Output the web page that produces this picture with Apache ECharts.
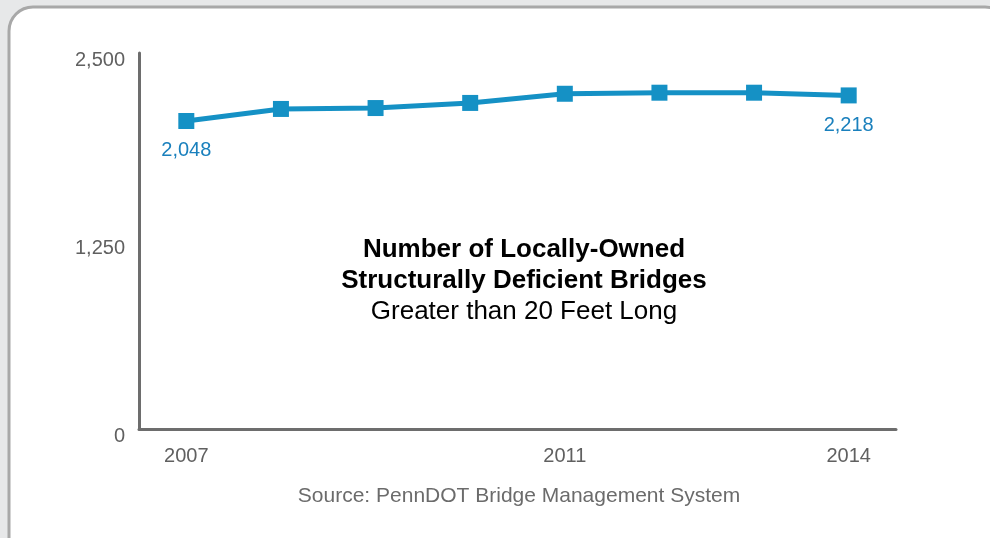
<!DOCTYPE html>
<html>
<head>
<meta charset="utf-8">
<style>
  html, body { margin: 0; padding: 0; background: #e7e8e9; }
  #main { width: 990px; height: 538px; }
</style>
<script src="https://cdn.jsdelivr.net/npm/echarts@6/dist/echarts.min.js"></script>
</head>
<body>
<div id="main"></div>
<script>
// data
var years = ['2007', '2008', '2009', '2010', '2011', '2012', '2013', '2014'];
var bridges = [2048, 2128, 2134, 2168, 2229, 2236, 2236, 2218];
var shownYears = ['2007', '2011', '2014'];
var yTicks = [0, 1250, 2500];

var titleLines = ['Number of Locally-Owned', 'Structurally Deficient Bridges', 'Greater than 20 Feet Long'];
var sourceText = 'Source: PennDOT Bridge Management System';

var chart = echarts.init(document.getElementById('main'));

// only first and last point get a value label
var lineData = bridges.map(function (v, i) {
    return {
        value: v,
        label: { show: i === 0 || i === bridges.length - 1 }
    };
});

function fmt(v) {
    return String(v).replace(/\B(?=(\d{3})+(?!\d))/g, ',');
}

var option = {
    backgroundColor: '#e7e8e9',
    textStyle: { fontFamily: 'Liberation Sans, Arial, sans-serif' },
    animation: false,
    graphic: [{
        type: 'rect',
        z: -10,
        shape: { x: 9, y: 7, width: 1000, height: 560, r: 24 },
        style: { fill: '#ffffff', stroke: '#a8a8a8', lineWidth: 3 }
    }],
    title: [{
        text: '{b|' + titleLines[0] + '}\n{b|' + titleLines[1] + '}\n{n|' + titleLines[2] + '}',
        left: 524,
        top: 234,
        padding: 0,
        textAlign: 'center',
        textStyle: {
            rich: {
                b: { fontSize: 26, fontWeight: 'bold', color: '#000', lineHeight: 31, align: 'center' },
                n: { fontSize: 26, fontWeight: 'normal', color: '#000', lineHeight: 32, align: 'center' }
            }
        }
    }, {
        text: sourceText,
        left: 519,
        top: 485,
        padding: 0,
        textAlign: 'center',
        textStyle: { fontSize: 21, fontWeight: 'normal', color: '#6b6b6b', lineHeight: 22 }
    }],
    grid: { left: 139, right: 94, top: 53, bottom: 109, containLabel: false },
    xAxis: {
        type: 'category',
        data: years,
        boundaryGap: true,
        axisLine: { lineStyle: { color: '#6d6d6d', width: 3 } },
        axisTick: { show: false },
        axisLabel: {
            color: '#606060',
            fontSize: 20,
            margin: 17,
            interval: function (idx, val) { return shownYears.indexOf(val) >= 0; }
        },
        splitLine: { show: false }
    },
    yAxis: {
        type: 'value',
        min: yTicks[0],
        max: yTicks[yTicks.length - 1],
        interval: yTicks[1] - yTicks[0],
        axisLine: { show: true, lineStyle: { color: '#6d6d6d', width: 3 } },
        axisTick: { show: false },
        splitLine: { show: false },
        axisLabel: {
            color: '#606060',
            fontSize: 20,
            margin: 14,
            verticalAlign: 'top',
            lineHeight: 15,
            formatter: function (v) { return fmt(v); }
        }
    },
    series: [{
        type: 'line',
        data: lineData,
        symbol: 'rect',
        symbolSize: 16,
        lineStyle: { color: '#1591c5', width: 5 },
        itemStyle: { color: '#1591c5' },
        label: {
            position: 'bottom',
            distance: 12,
            color: '#1a80bd',
            fontSize: 20,
            formatter: function (p) { return fmt(p.value); }
        }
    }]
};

chart.setOption(option);
</script>
</body>
</html>
